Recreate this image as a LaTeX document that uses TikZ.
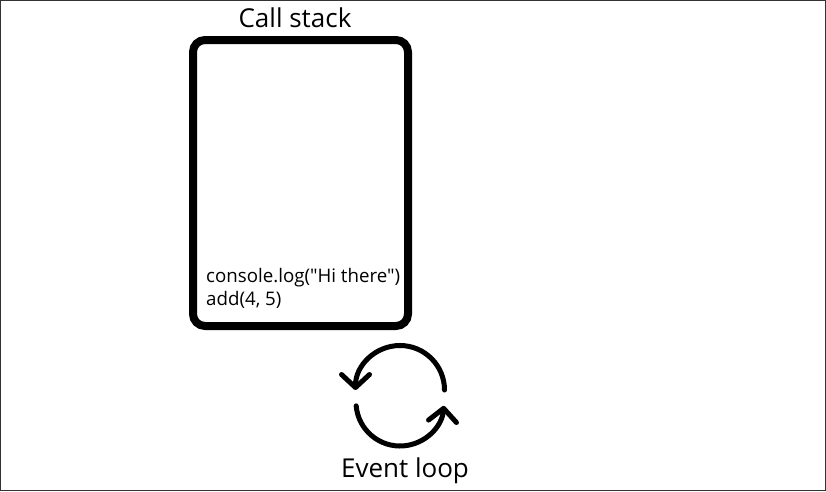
\documentclass[tikz,border=0pt]{standalone}
\usepackage{fontspec}
\setmainfont{Open Sans}[Ligatures=TeXOff]
\usetikzlibrary{arrows.meta}
\begin{document}
\begin{tikzpicture}[x=1pt,y=-1pt,
  frame/.style={draw=black!80,line width=1pt},
  stackbox/.style={draw=black,line width=8pt,rounded corners=12pt},
  title/.style={font=\fontsize{26}{30}\selectfont,anchor=base,inner sep=0pt},
  code/.style={font=\fontsize{18.7}{23}\selectfont,anchor=base west,inner sep=0pt},
  loop/.style={line width=5pt,line cap=round,-{Straight Barb[length=13pt,width=28pt,round]}}]
\useasboundingbox (0,0) rectangle (826,491);
\draw[frame] (0.5,0.5) rectangle (825.5,490.5);
\draw[stackbox] (193,40) rectangle (408,326);
\node[title] (cs) at (295,27) {Call stack};
\node[code] (call1) at (206,282) {console.log("Hi there")};
\node[code] (call2) at (206,305) {add(4, 5)};
\coordinate (c1) at (400,390);
\coordinate (c2) at (400,402);
\draw[loop] (c1) ++(0:44.5) arc[start angle=0,end angle=-180,radius=44.5];
\draw[loop] (c2) ++(175:44) arc[start angle=175,end angle=5,radius=44];
\node[title] (el) at (405,477) {Event loop};
\end{tikzpicture}
\end{document}
